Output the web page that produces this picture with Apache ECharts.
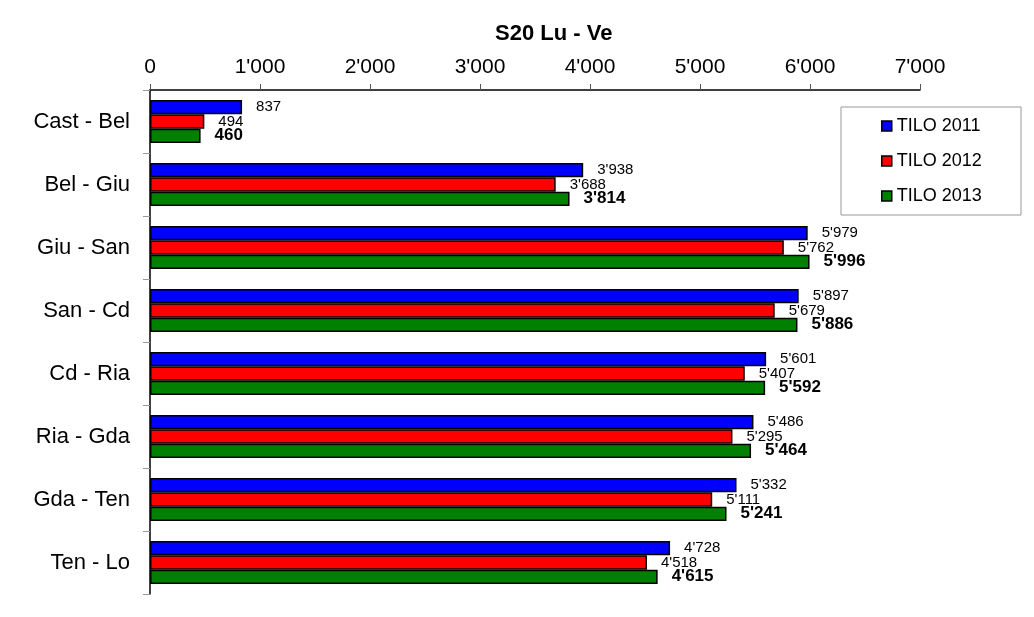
<!DOCTYPE html>
<html>
<head>
<meta charset="utf-8">
<script src="https://cdn.jsdelivr.net/npm/echarts@6/dist/echarts.min.js"></script>
<style>html,body{margin:0;padding:0;background:#fff;}#c{width:1034px;height:617px;}</style>
</head>
<body>
<div id="c"></div>
<script>
var categories = ['Cast - Bel','Bel - Giu','Giu - San','San - Cd','Cd - Ria','Ria - Gda','Gda - Ten','Ten - Lo'];
var seriesNames = ['TILO 2011','TILO 2012','TILO 2013'];
var tilo2011 = [837, 3938, 5979, 5897, 5601, 5486, 5332, 4728];
var tilo2012 = [494, 3688, 5762, 5679, 5407, 5295, 5111, 4518];
var tilo2013 = [460, 3814, 5996, 5886, 5592, 5464, 5241, 4615];
var xTicks = [0, 1000, 2000, 3000, 4000, 5000, 6000, 7000];

function fmt(v){
  var s = String(Math.round(v));
  return s.replace(/\B(?=(\d{3})+(?!\d))/g, "'");
}
var FONT = 'Liberation Sans, Arial, sans-serif';
var chart = echarts.init(document.getElementById('c'));
function mkSeries(name, data, color, bold){
  return {
    name: name, type: 'bar', data: data,
    barGap: '0%', barCategoryGap: '32%',
    itemStyle: {color: color, borderColor: '#000', borderWidth: 1.5},
    label: {
      show: true, position: 'right', distance: 14,
      color: '#000', fontFamily: FONT,
      fontSize: bold ? 17 : 15, fontWeight: bold ? 'bold' : 'normal',
      formatter: function(p){ return fmt(p.value); }
    },
    emphasis: {disabled: true},
    animation: false
  };
}
chart.setOption({
  animation: false,
  title: {
    text: 'S20 Lu - Ve', left: 490, top: 18,
    textStyle: {fontFamily: FONT, fontSize: 22, fontWeight: 'bold', color: '#000'}
  },
  graphic: [{
    type: 'rect', shape: {x: 841, y: 107, width: 180, height: 108},
    style: {fill: '#fff', stroke: '#999', lineWidth: 1}, z: 0
  }],
  legend: {
    orient: 'vertical', left: 881, top: 117, padding: 0,
    itemWidth: 10, itemHeight: 10, itemGap: 17, itemTextGap: 5,
    data: seriesNames.map(function(n){ return {name: n, icon: 'rect'}; }),
    itemStyle: {borderColor: '#000', borderWidth: 1.5},
    textStyle: {fontFamily: FONT, fontSize: 18, color: '#000'},
    z: 5
  },
  grid: {left: 150, right: 114, top: 90, bottom: 23, containLabel: false},
  xAxis: {
    type: 'value', position: 'top', min: xTicks[0], max: xTicks[xTicks.length-1], interval: 1000,
    axisLine: {show: true, lineStyle: {color: '#000', width: 1.5}},
    axisTick: {show: true, length: 6, lineStyle: {color: '#555'}},
    splitLine: {show: false},
    axisLabel: {fontFamily: FONT, fontSize: 21, color: '#000', margin: 12, formatter: function(v){ return fmt(v); }}
  },
  yAxis: {
    type: 'category', data: categories, inverse: true,
    axisLine: {show: true, lineStyle: {color: '#000', width: 1.5}},
    axisTick: {show: true, length: 7, lineStyle: {color: '#999'}},
    axisLabel: {fontFamily: FONT, fontSize: 22, color: '#000', margin: 20}
  },
  series: [
    mkSeries(seriesNames[0], tilo2011, '#0000FF', false),
    mkSeries(seriesNames[1], tilo2012, '#FF0000', false),
    mkSeries(seriesNames[2], tilo2013, '#008000', true)
  ]
});
</script>
</body>
</html>
